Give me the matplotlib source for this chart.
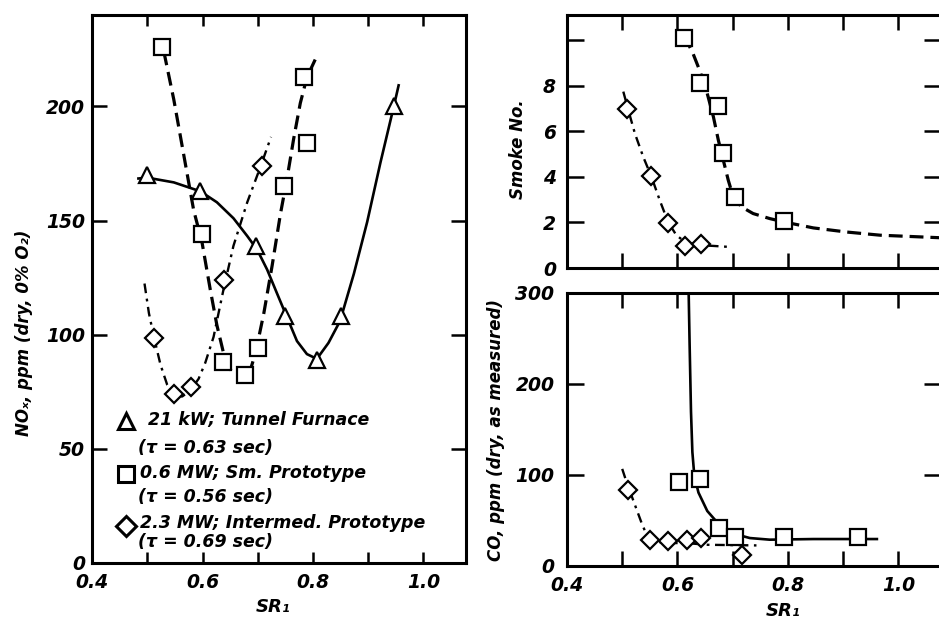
import matplotlib
matplotlib.use("Agg")
import matplotlib.pyplot as plt

plt.rcParams["font.family"] = ["DejaVu Sans"]
plt.rcParams["font.style"] = "oblique"
plt.rcParams["font.weight"] = "bold"
plt.rcParams["axes.labelweight"] = "bold"
plt.rcParams["lines.scale_dashes"] = False

# NOx panel (left)
tri_sr = [0.50, 0.596, 0.696, 0.75, 0.807, 0.85, 0.946]
tri_nox = [170, 163, 139, 108, 89, 108, 200]
tri_fit_sr = [0.484, 0.4995, 0.548, 0.596, 0.626, 0.656, 0.681, 0.699, 0.717, 0.735,
              0.753, 0.771, 0.789, 0.807, 0.828, 0.849, 0.874, 0.898, 0.922, 0.946, 0.955]
tri_fit_nox = [168.4, 168.8, 166.7, 162.8, 158, 151, 143.2, 137.2, 128.5, 118,
               107.6, 97.2, 91.5, 89.4, 96.4, 106, 126.7, 149.3, 175.3, 199.7, 209.2]

sq_sr = [0.527, 0.599, 0.637, 0.677, 0.70, 0.748, 0.789, 0.784]
sq_nox = [226, 144, 88, 82.5, 94, 165, 184, 213]
sq_fit1_sr = [0.530, 0.548, 0.566, 0.584, 0.599, 0.614, 0.626, 0.638, 0.650, 0.659]
sq_fit1_nox = [224, 203, 178.8, 154.5, 140.6, 119.8, 104.2, 92, 85, 82]
sq_fit2_sr = [0.684, 0.696, 0.711, 0.726, 0.741, 0.753, 0.765, 0.777, 0.789, 0.804]
sq_fit2_nox = [82.5, 92, 109.4, 130.2, 152.8, 168.4, 185.8, 201.4, 212.7, 220.5]

dia_sr = [0.512, 0.548, 0.579, 0.638, 0.708]
dia_nox = [98.6, 73.8, 77.3, 124, 174]
dia_fit_sr = [0.495, 0.503, 0.512, 0.524, 0.536, 0.548, 0.563, 0.578, 0.593, 0.605,
              0.620, 0.638, 0.656, 0.681, 0.705, 0.724]
dia_fit_nox = [122.4, 109.4, 99, 86.8, 78.1, 73.8, 72.9, 75.5, 80.7, 87.7,
               99, 119.8, 138.9, 158, 173.6, 186.6]

# Smoke panel (top right)
smk_sq_sr = [0.611, 0.64, 0.674, 0.683, 0.704, 0.793]
smk_sq = [10.1, 8.1, 7.1, 5.05, 3.1, 2.05]
smk_sq_fit_sr = [0.612, 0.628, 0.641, 0.653, 0.665, 0.674, 0.683, 0.692, 0.701, 0.716,
                 0.737, 0.767, 0.793, 0.846, 0.906, 0.967, 1.074]
smk_sq_fit = [10.2, 9.42, 8.62, 7.74, 6.64, 5.61, 4.73, 3.85, 3.12, 2.68,
              2.39, 2.17, 2.02, 1.76, 1.58, 1.44, 1.33]

smk_dia_sr = [0.509, 0.553, 0.582, 0.613, 0.642]
smk_dia = [6.96, 4.04, 1.98, 0.97, 1.04]
smk_dia_fit_sr = [0.502, 0.511, 0.523, 0.538, 0.553, 0.568, 0.583, 0.598, 0.616, 0.641, 0.665, 0.698]
smk_dia_fit = [7.74, 6.93, 5.9, 4.88, 4.0, 2.97, 2.02, 1.44, 1.1, 1.0, 0.97, 0.92]

# CO panel (bottom right)
co_sq_sr = [0.603, 0.64, 0.676, 0.704, 0.793, 0.926]
co_sq = [92, 96, 42, 32, 31.5, 31.5]
co_sq_fit_sr = [0.620, 0.622, 0.6245, 0.627, 0.6305, 0.638, 0.654, 0.678, 0.701, 0.731,
                0.767, 0.846, 0.961]
co_sq_fit = [310, 243.7, 169.6, 125.2, 99.3, 80.7, 60.4, 43.7, 35.6, 30.7,
             28.9, 29.6, 29.6]

co_dia_sr = [0.511, 0.551, 0.582, 0.618, 0.642, 0.716]
co_dia = [84, 29, 27, 29, 31, 12]
co_dia_fit_sr = [0.500, 0.508, 0.517, 0.526, 0.535, 0.544, 0.556, 0.580, 0.616, 0.653, 0.743]
co_dia_fit = [106.7, 91.9, 77, 62.2, 47.4, 34.4, 27, 25.2, 25.2, 23.3, 22.6]

legend_lines = [
    ("^", "21 kW; Tunnel Furnace", "(τ = 0.63 sec)"),
    ("s", "0.6 MW; Sm. Prototype", "(τ = 0.56 sec)"),
    ("D", "2.3 MW; Intermed. Prototype", "(τ = 0.69 sec)"),
]

dashed = (0, (10, 5))
dashdot = (0, (7, 4, 2, 4))
mk = dict(color="black", markerfacecolor="white", markeredgewidth=1.6,
          linestyle="none", zorder=5, clip_on=False)

fig = plt.figure(figsize=(9.39, 6.21), dpi=100)
ax1 = fig.add_axes([0.098, 0.0934, 0.3983, 0.8824])
ax2 = fig.add_axes([0.6038, 0.5684, 0.3983, 0.4074])
ax3 = fig.add_axes([0.6038, 0.0886, 0.3983, 0.4396])

xt = [0.4, 0.5, 0.6, 0.7, 0.8, 0.9, 1.0]
xl = ["0.4", "", "0.6", "", "0.8", "", "1.0"]

for ax in (ax1, ax2, ax3):
    ax.set_xlim(0.4, 1.077)
    for s in ax.spines.values():
        s.set_linewidth(2.2)
    ax.set_xticks(xt)
    ax.tick_params(direction="in", top=True, right=True, width=1.8,
                   labelsize=13.5, pad=6)

# left panel
ax1.plot(tri_fit_sr, tri_fit_nox, color="black", lw=1.9)
ax1.plot(sq_fit1_sr, sq_fit1_nox, color="black", lw=2.3, ls=dashed)
ax1.plot(sq_fit2_sr, sq_fit2_nox, color="black", lw=2.3, ls=dashed)
ax1.plot(dia_fit_sr, dia_fit_nox, color="black", lw=1.7, ls=dashdot)
ax1.plot(tri_sr, tri_nox, marker="^", markersize=11, **mk)
ax1.plot(sq_sr, sq_nox, marker="s", markersize=11, **mk)
ax1.plot(dia_sr, dia_nox, marker="D", markersize=9.5, **mk)
ax1.set_ylim(0, 240)
ax1.set_xticklabels(xl)
ax1.set_yticks([0, 50, 100, 150, 200])
ax1.tick_params(axis="x", length=8, pad=7)
ax1.tick_params(axis="y", length=11, pad=5)
ax1.set_xlabel("SR₁", fontsize=13)
ax1.xaxis.set_label_coords(0.484, -0.064)
ax1.set_ylabel("NOₓ, ppm (dry, 0% O₂)", fontsize=12)
ax1.yaxis.set_label_coords(-0.158, 0.42)

leg_y = [(0.259, 0.261, 0.210), (0.162, 0.164, 0.120), (0.0675, 0.073, 0.038)]
leg_ms = [11, 11, 10]
for (m, t1, t2), (ym, y1, y2), ms in zip(legend_lines, leg_y, leg_ms):
    ax1.plot([0.092], [ym], marker=m, markersize=ms, color="black",
             markerfacecolor="white", markeredgewidth=2.2, transform=ax1.transAxes,
             clip_on=False, zorder=6)
    ax1.text(0.127 if m != "^" else 0.150, y1, t1, transform=ax1.transAxes,
             fontsize=12.5, va="center", ha="left")
    ax1.text(0.123, y2, t2, transform=ax1.transAxes, fontsize=12.5,
             va="center", ha="left")

# smoke panel
ax2.plot(smk_sq_fit_sr, smk_sq_fit, color="black", lw=2.3, ls=dashed)
ax2.plot(smk_dia_fit_sr, smk_dia_fit, color="black", lw=1.7, ls=dashdot)
ax2.plot(smk_sq_sr, smk_sq, marker="s", markersize=11, **mk)
ax2.plot(smk_dia_sr, smk_dia, marker="D", markersize=9, **mk)
ax2.set_ylim(0, 11.1)
ax2.set_yticks([0, 2, 4, 6, 8, 10])
ax2.set_yticklabels(["0", "2", "4", "6", "8", ""])
ax2.set_xticklabels([])
ax2.tick_params(axis="x", length=11)
ax2.tick_params(axis="y", length=12, pad=8)
ax2.set_ylabel("Smoke No.", fontsize=12)
ax2.yaxis.set_label_coords(-0.107, 0.47)

# CO panel
ax3.plot(co_sq_fit_sr, co_sq_fit, color="black", lw=1.9)
ax3.plot(co_dia_fit_sr, co_dia_fit, color="black", lw=1.7, ls=dashdot)
ax3.plot(co_sq_sr, co_sq, marker="s", markersize=11, **mk)
ax3.plot(co_dia_sr, co_dia, marker="D", markersize=9, **mk)
ax3.set_ylim(0, 300)
ax3.set_yticks([0, 100, 200, 300])
ax3.set_xticklabels(xl)
ax3.tick_params(axis="x", length=11, pad=7)
ax3.tick_params(axis="y", length=12, pad=9)
ax3.set_xlabel("SR₁", fontsize=13)
ax3.xaxis.set_label_coords(0.578, -0.132)
ax3.set_ylabel("CO, ppm (dry, as measured)", fontsize=12)
ax3.yaxis.set_label_coords(-0.166, 0.498)

fig.savefig("out.png", dpi=100)
